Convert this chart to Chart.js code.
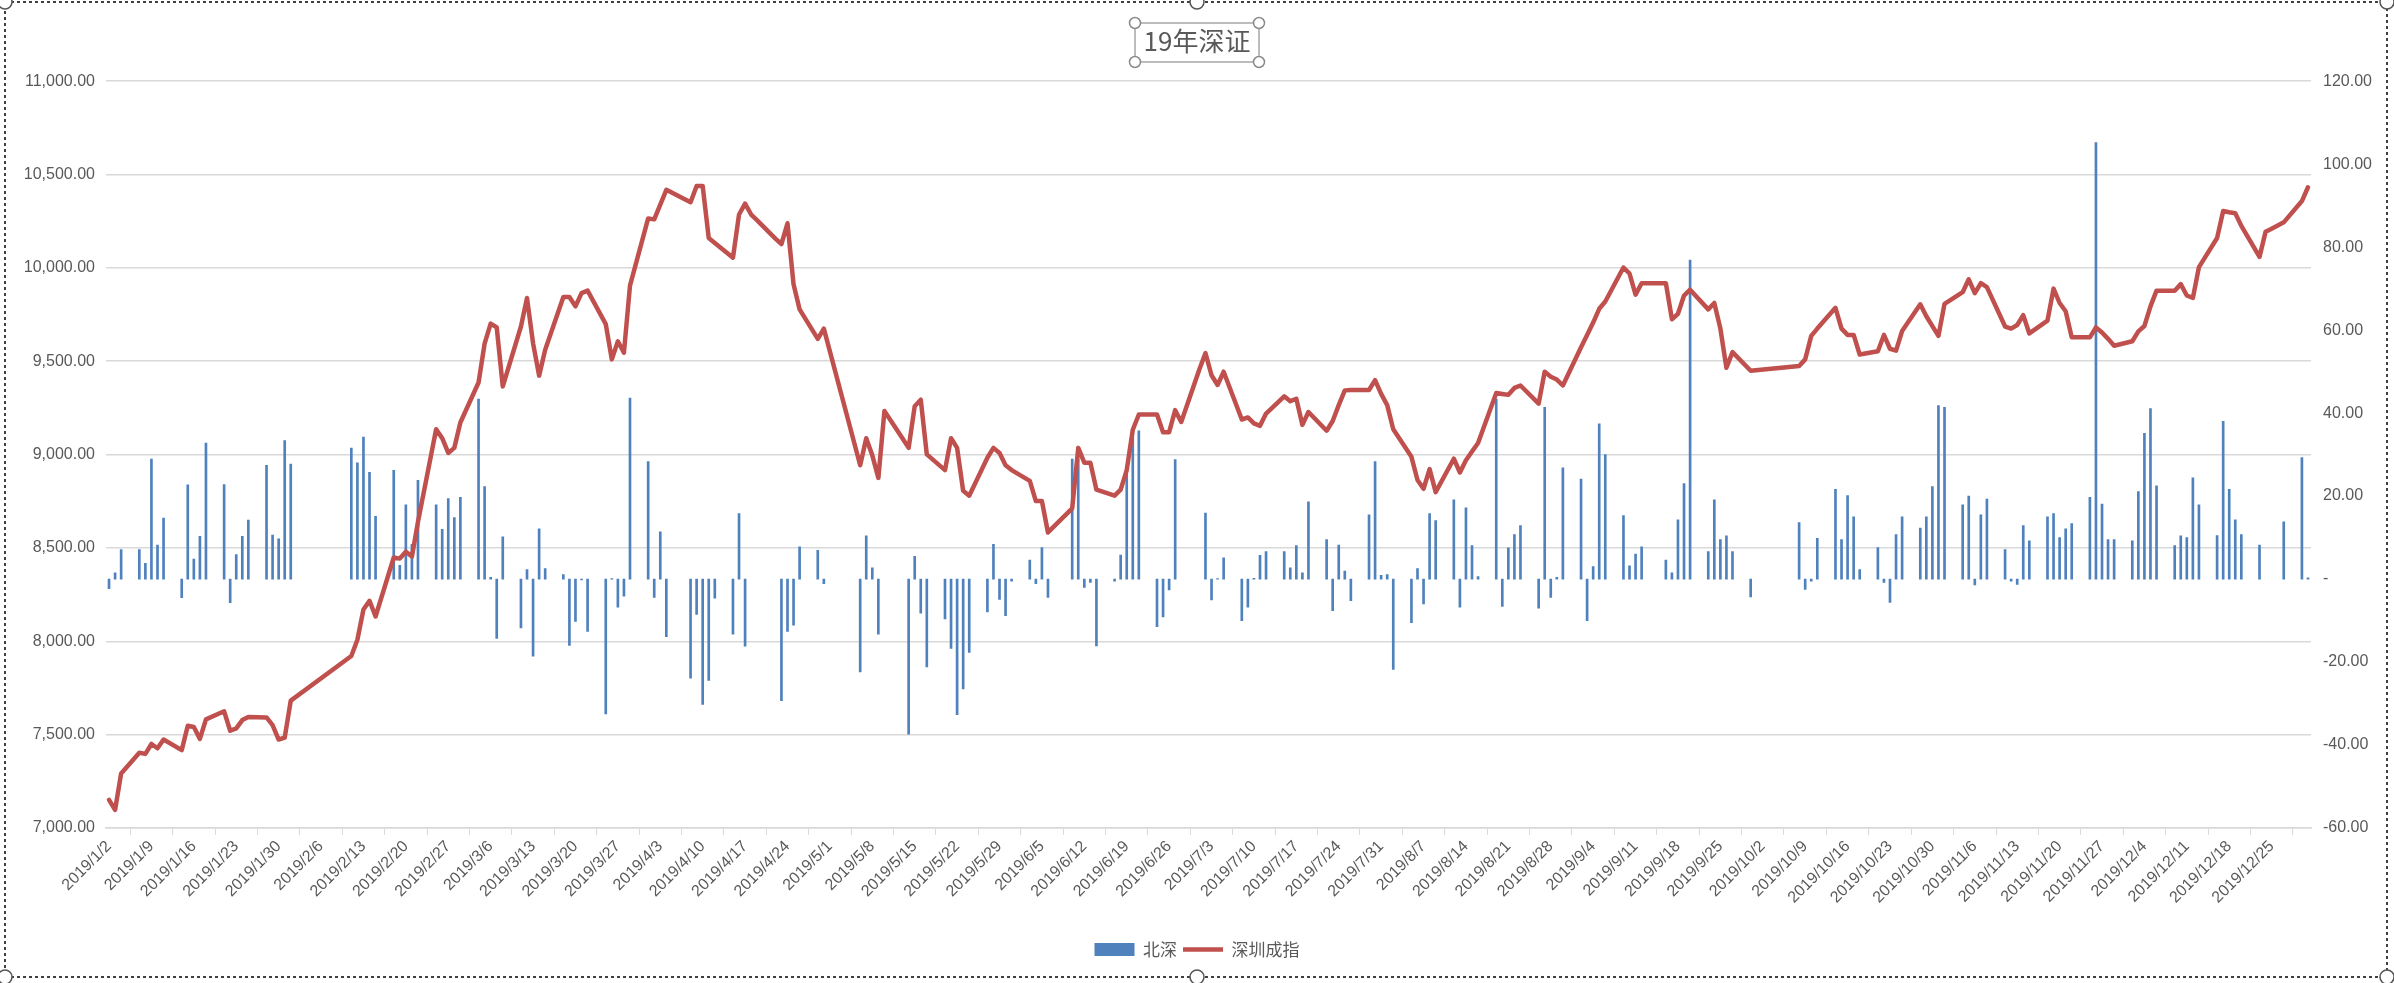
<!DOCTYPE html>
<html>
<head>
<meta charset="utf-8">
<title>19年深证</title>
<script src="https://cdn.jsdelivr.net/npm/chart.js@4.4.1/dist/chart.umd.min.js"></script>
<style>
    html, body { margin: 0; padding: 0; background: #fff; }
    .chart-box { width: 2394px; height: 983px; }
</style>
</head>
<body>
<div class="chart-box"><canvas id="szChart" width="2394" height="983"></canvas></div>
<script>
// trading days of 2019
const tradeDates = [
    '2019/1/2', '2019/1/3', '2019/1/4', '2019/1/7', '2019/1/8', '2019/1/9', '2019/1/10', '2019/1/11',
    '2019/1/14', '2019/1/15', '2019/1/16', '2019/1/17', '2019/1/18', '2019/1/21', '2019/1/22', '2019/1/23',
    '2019/1/24', '2019/1/25', '2019/1/28', '2019/1/29', '2019/1/30', '2019/1/31',
    '2019/2/1', '2019/2/11', '2019/2/12', '2019/2/13', '2019/2/14', '2019/2/15', '2019/2/18', '2019/2/19',
    '2019/2/20', '2019/2/21', '2019/2/22', '2019/2/25', '2019/2/26', '2019/2/27', '2019/2/28',
    '2019/3/1', '2019/3/4', '2019/3/5', '2019/3/6', '2019/3/7', '2019/3/8', '2019/3/11', '2019/3/12',
    '2019/3/13', '2019/3/14', '2019/3/15', '2019/3/18', '2019/3/19', '2019/3/20', '2019/3/21', '2019/3/22',
    '2019/3/25', '2019/3/26', '2019/3/27', '2019/3/28', '2019/3/29',
    '2019/4/1', '2019/4/2', '2019/4/3', '2019/4/4', '2019/4/8', '2019/4/9', '2019/4/10', '2019/4/11',
    '2019/4/12', '2019/4/15', '2019/4/16', '2019/4/17', '2019/4/18', '2019/4/19', '2019/4/22', '2019/4/23',
    '2019/4/24', '2019/4/25', '2019/4/26', '2019/4/29', '2019/4/30',
    '2019/5/6', '2019/5/7', '2019/5/8', '2019/5/9', '2019/5/10', '2019/5/13', '2019/5/14', '2019/5/15',
    '2019/5/16', '2019/5/17', '2019/5/20', '2019/5/21', '2019/5/22', '2019/5/23', '2019/5/24', '2019/5/27',
    '2019/5/28', '2019/5/29', '2019/5/30', '2019/5/31',
    '2019/6/3', '2019/6/4', '2019/6/5', '2019/6/6', '2019/6/10', '2019/6/11', '2019/6/12', '2019/6/13',
    '2019/6/14', '2019/6/17', '2019/6/18', '2019/6/19', '2019/6/20', '2019/6/21', '2019/6/24', '2019/6/25',
    '2019/6/26', '2019/6/27', '2019/6/28',
    '2019/7/1', '2019/7/2', '2019/7/3', '2019/7/4', '2019/7/5', '2019/7/8', '2019/7/9', '2019/7/10',
    '2019/7/11', '2019/7/12', '2019/7/15', '2019/7/16', '2019/7/17', '2019/7/18', '2019/7/19', '2019/7/22',
    '2019/7/23', '2019/7/24', '2019/7/25', '2019/7/26', '2019/7/29', '2019/7/30', '2019/7/31',
    '2019/8/1', '2019/8/2', '2019/8/5', '2019/8/6', '2019/8/7', '2019/8/8', '2019/8/9', '2019/8/12',
    '2019/8/13', '2019/8/14', '2019/8/15', '2019/8/16', '2019/8/19', '2019/8/20', '2019/8/21', '2019/8/22',
    '2019/8/23', '2019/8/26', '2019/8/27', '2019/8/28', '2019/8/29', '2019/8/30',
    '2019/9/2', '2019/9/3', '2019/9/4', '2019/9/5', '2019/9/6', '2019/9/9', '2019/9/10', '2019/9/11',
    '2019/9/12', '2019/9/16', '2019/9/17', '2019/9/18', '2019/9/19', '2019/9/20', '2019/9/23', '2019/9/24',
    '2019/9/25', '2019/9/26', '2019/9/27', '2019/9/30',
    '2019/10/8', '2019/10/9', '2019/10/10', '2019/10/11', '2019/10/14', '2019/10/15', '2019/10/16', '2019/10/17',
    '2019/10/18', '2019/10/21', '2019/10/22', '2019/10/23', '2019/10/24', '2019/10/25', '2019/10/28', '2019/10/29',
    '2019/10/30', '2019/10/31',
    '2019/11/1', '2019/11/4', '2019/11/5', '2019/11/6', '2019/11/7', '2019/11/8', '2019/11/11', '2019/11/12',
    '2019/11/13', '2019/11/14', '2019/11/15', '2019/11/18', '2019/11/19', '2019/11/20', '2019/11/21', '2019/11/22',
    '2019/11/25', '2019/11/26', '2019/11/27', '2019/11/28', '2019/11/29',
    '2019/12/2', '2019/12/3', '2019/12/4', '2019/12/5', '2019/12/6', '2019/12/9', '2019/12/10', '2019/12/11',
    '2019/12/12', '2019/12/13', '2019/12/16', '2019/12/17', '2019/12/18', '2019/12/19', '2019/12/20', '2019/12/23',
    '2019/12/24', '2019/12/25', '2019/12/26', '2019/12/27', '2019/12/30', '2019/12/31'
];

// 深圳成指 close
const szIndex = [
    7151, 7097, 7292, 7403, 7397, 7450, 7427, 7474, 7417, 7548, 7541, 7477, 7582, 7625, 7521, 7534,
    7578, 7595, 7592, 7551, 7474, 7484,
    7682, 7921, 8008, 8170, 8217, 8133, 8449, 8443, 8480, 8454, 8640, 9136, 9088, 9009, 9036,
    9172, 9386, 9594, 9702, 9681, 9365, 9686, 9839, 9596, 9423, 9562, 9844, 9844, 9794, 9865, 9878,
    9699, 9510, 9607, 9546, 9905,
    10265, 10260, 10339, 10418, 10352, 10439, 10439, 10160, 10134, 10055, 10286, 10344, 10286, 10255, 10157, 10128,
    10239, 9912, 9778, 9620, 9675,
    8943, 9088, 8996, 8875, 9233, 9086, 9036, 9259, 9294, 9001, 8917, 9088, 9036, 8806, 8780, 8983,
    9036, 9009, 8943, 8917,
    8859, 8751, 8751, 8583, 8712, 9036, 8957, 8957, 8812, 8780, 8812, 8917, 9133, 9215, 9215, 9120,
    9120, 9238, 9175,
    9457, 9544, 9425, 9373, 9444, 9188, 9199, 9167, 9154, 9220, 9312, 9286, 9299, 9159, 9228, 9128,
    9180, 9265, 9344, 9346, 9346, 9399, 9325,
    9265, 9136, 8988, 8864, 8817, 8922, 8799, 8978, 8904, 8970, 9017, 9062, 9330, 9325, 9320, 9357,
    9370, 9273, 9444, 9417, 9402, 9370,
    9575, 9641, 9707, 9781, 9820, 10002, 9970, 9857, 9918, 9918, 9725, 9754, 9852, 9883, 9778, 9812,
    9675, 9465, 9549, 9449,
    9475, 9510, 9636, 9675, 9786, 9675, 9641, 9641, 9536, 9554, 9641, 9567, 9557, 9662, 9805, 9741,
    9688, 9636,
    9807, 9870, 9939, 9865, 9918, 9897, 9686, 9675, 9694, 9747, 9649, 9718, 9889, 9812, 9768, 9628,
    9628, 9681, 9654, 9620, 9583,
    9607, 9660, 9689, 9794, 9878, 9878, 9913, 9852, 9839, 10004, 10160, 10305, 10298, 10293, 10225, 10059,
    10193, 10210, 10227, 10244, 10358, 10432
];

// 北深 net flow, null = no trading through the connect that day
const northFlow = [
    -2.3, 1.5, 7.1, 7.1, 3.8, 28.9, 8.2, 14.7, -4.5, 22.7, 4.8, 10.3, 32.8, 22.8, -5.7, 5.9,
    10.3, 14.2, 27.4, 10.6, 9.7, 33.4,
    27.7, 31.6, 28.0, 34.2, 25.7, 15.1, 26.2, 3.3, 17.9, 8.4, 23.8, 17.9, 12.0, 19.4, 14.8,
    19.7, 43.4, 22.3, 0.4, -14.3, 10.2, -11.8, 2.3, -18.6, 12.1, 2.5, 1.1, -16.0, -10.2, -0.2, -12.6,
    -32.5, 0.1, -6.8, -4.1, 43.6,
    28.3, -4.4, 11.4, -13.9, -23.9, -8.5, -30.2, -24.4, -4.6, -13.3, 15.8, -16.2, null, null, null, -29.3,
    -12.6, -11.1, 7.8, 6.9, -1.1,
    -22.4, 10.4, 2.7, -13.3, null, null, -37.4, 5.5, -8.2, -21.2, -9.6, -16.7, -32.7, -26.5, -17.7, -7.9,
    8.4, -4.9, -8.8, -0.5,
    4.6, -1.1, 7.6, -4.4, 28.9, 28.9, -2.0, -0.8, -16.1, -0.5, 5.8, 26.2, 35.7, 35.7, -11.5, -9.1,
    -2.6, 28.8, null,
    null, 15.9, -5.0, 0.1, 5.1, -10.0, -6.8, 0.2, 5.7, 6.6, 6.6, 2.7, 8.1, 1.5, 18.6, 9.5,
    -7.6, 8.2, 1.9, -5.2, 15.5, 28.3, 0.9,
    1.1, -21.8, -10.5, 2.5, -6.0, 15.8, 14.1, 19.1, -6.8, 17.2, 8.1, 0.6, 43.4, -6.6, 7.5, 10.7,
    12.9, -7.0, 41.4, -4.4, 0.4, 26.8,
    24.1, -10.0, 3.0, 37.4, 30.0, 15.3, 3.2, 6.0, 7.8, 4.6, 1.5, 14.3, 23.0, 76.9, 6.6, 19.1,
    9.5, 10.4, 6.6, -4.3,
    13.6, -2.5, -0.5, 9.8, 21.6, 9.5, 20.1, 15.0, 2.3, 7.6, -0.8, -5.6, 10.7, 15.0, 12.3, 15.0,
    22.3, 41.8,
    41.4, 17.9, 20.0, -1.4, 15.5, 19.3, 7.1, -0.5, -1.3, 12.9, 9.2, 15.0, 15.8, 10.0, 12.1, 13.4,
    19.7, 105.2, 18.1, 9.5, 9.5,
    9.2, 21.1, 35.1, 41.1, 22.5, 8.1, 10.4, 10.0, 24.4, 17.9, 10.5, 38.0, 21.6, 14.3, 10.7, 8.2,
    null, null, null, 13.8, 29.3, 0.3
];

const leftTicks = { min: 7000, max: 11000, step: 500 };
const rightTicks = { min: -60, max: 120, step: 20 };

// date axis like excel: every calendar day between first and last trade date
function parseDay(s) {
    const p = s.split('/').map(Number);
    return new Date(p[0], p[1] - 1, p[2]);
}
const dayLabels = [];
const first = parseDay(tradeDates[0]);
const last = parseDay(tradeDates[tradeDates.length - 1]);
for (let d = new Date(first); d <= last; d.setDate(d.getDate() + 1)) {
    dayLabels.push(d.getFullYear() + '/' + (d.getMonth() + 1) + '/' + d.getDate());
}
const barData = dayLabels.map(() => null);
const lineData = dayLabels.map(() => null);
tradeDates.forEach(function (day, i) {
    const k = dayLabels.indexOf(day);
    if (k >= 0) {
        barData[k] = northFlow[i];
        lineData[k] = szIndex[i];
    }
});

const textColor = '#595959';
const gridColor = '#d9d9d9';

// selection frame excel draws around the chart and the title
const excelFrame = {
    id: 'excelFrame',
    afterDraw(chart) {
        const c = chart.ctx;
        c.save();
        c.strokeStyle = '#404040';
        c.lineWidth = 2;
        c.setLineDash([3, 3]);
        c.strokeRect(5, 2, 2382, 975);
        c.setLineDash([]);
        c.fillStyle = '#fff';
        c.lineWidth = 1.5;
        c.strokeStyle = '#555';
        [[5, 2], [1197, 2], [2387, 2], [5, 977], [1197, 977], [2387, 977]].forEach(function (p) {
            c.beginPath();
            c.arc(p[0], p[1], 7, 0, Math.PI * 2);
            c.fill();
            c.stroke();
        });
        c.strokeStyle = '#a6a6a6';
        c.lineWidth = 1.5;
        c.strokeRect(1135, 23, 124, 39);
        c.strokeStyle = '#8a8a8a';
        [[1135, 23], [1259, 23], [1135, 62], [1259, 62]].forEach(function (p) {
            c.beginPath();
            c.arc(p[0], p[1], 5.5, 0, Math.PI * 2);
            c.fill();
            c.stroke();
        });
        c.restore();
    }
};

Chart.defaults.font.family = '"Liberation Sans", "Noto Sans CJK SC", sans-serif';
Chart.defaults.color = textColor;

new Chart(document.getElementById('szChart'), {
    type: 'bar',
    data: {
        labels: dayLabels,
        datasets: [{
            type: 'bar',
            label: '北深',
            data: barData,
            yAxisID: 'y1',
            backgroundColor: '#4f81bd',
            barThickness: 2,
            order: 1
        }, {
            type: 'line',
            label: '深圳成指',
            data: lineData,
            yAxisID: 'y',
            borderColor: '#c0504d',
            backgroundColor: '#c0504d',
            borderWidth: 4.5,
            borderJoinStyle: 'round',
            borderCapStyle: 'round',
            pointRadius: 0,
            tension: 0,
            spanGaps: true,
            order: 0
        }]
    },
    options: {
        responsive: false,
        animation: false,
        devicePixelRatio: 1,
        layout: { padding: { top: 0, bottom: 15, left: 0, right: 0 } },
        plugins: {
            title: {
                display: true,
                text: '19年深证',
                color: textColor,
                font: { family: '"Noto Sans CJK SC"', size: 26, weight: 'normal' },
                padding: { top: 26, bottom: 24 }
            },
            legend: {
                position: 'bottom',
                labels: {
                    color: textColor,
                    font: { family: '"Noto Sans CJK SC"', size: 17 },
                    usePointStyle: true,
                    pointStyleWidth: 40,
                    boxHeight: 13,
                    padding: 6,
                    sort: function (a, b) { return a.datasetIndex - b.datasetIndex; },
                    generateLabels: function (chart) {
                        const items = Chart.defaults.plugins.legend.labels.generateLabels(chart);
                        items.forEach(function (it) {
                            it.pointStyle = it.datasetIndex === 0 ? 'rect' : 'line';
                        });
                        return items;
                    }
                }
            },
            tooltip: { enabled: false }
        },
        scales: {
            x: {
                offset: true,
                grid: { drawOnChartArea: false, offset: true, tickLength: 7, color: gridColor },
                border: { color: gridColor, width: 1.5 },
                ticks: {
                    autoSkip: false,
                    maxRotation: 45,
                    minRotation: 45,
                    color: textColor,
                    font: { size: 16 },
                    padding: 2,
                    callback: function (value, index) {
                        return index % 7 === 0 ? this.getLabelForValue(value) : null;
                    }
                },
                afterFit: function (scale) { scale.height = 107; }
            },
            y: {
                position: 'left',
                min: leftTicks.min,
                max: leftTicks.max,
                grid: { color: gridColor, lineWidth: 1.5, drawTicks: false },
                border: { display: false },
                ticks: {
                    stepSize: leftTicks.step,
                    color: textColor,
                    font: { size: 16 },
                    padding: 11,
                    callback: function (v) {
                        return v.toLocaleString('en-US', { minimumFractionDigits: 2, maximumFractionDigits: 2 });
                    }
                },
                afterFit: function (scale) { scale.width = 106; }
            },
            y1: {
                position: 'right',
                min: rightTicks.min,
                max: rightTicks.max,
                grid: { display: false },
                border: { display: false },
                ticks: {
                    stepSize: rightTicks.step,
                    color: textColor,
                    font: { size: 16 },
                    padding: 4,
                    callback: function (v) {
                        return v === 0 ? '-' : v.toFixed(2);
                    }
                },
                afterFit: function (scale) { scale.width = 83; }
            }
        }
    },
    plugins: [excelFrame]
});
</script>
</body>
</html>
